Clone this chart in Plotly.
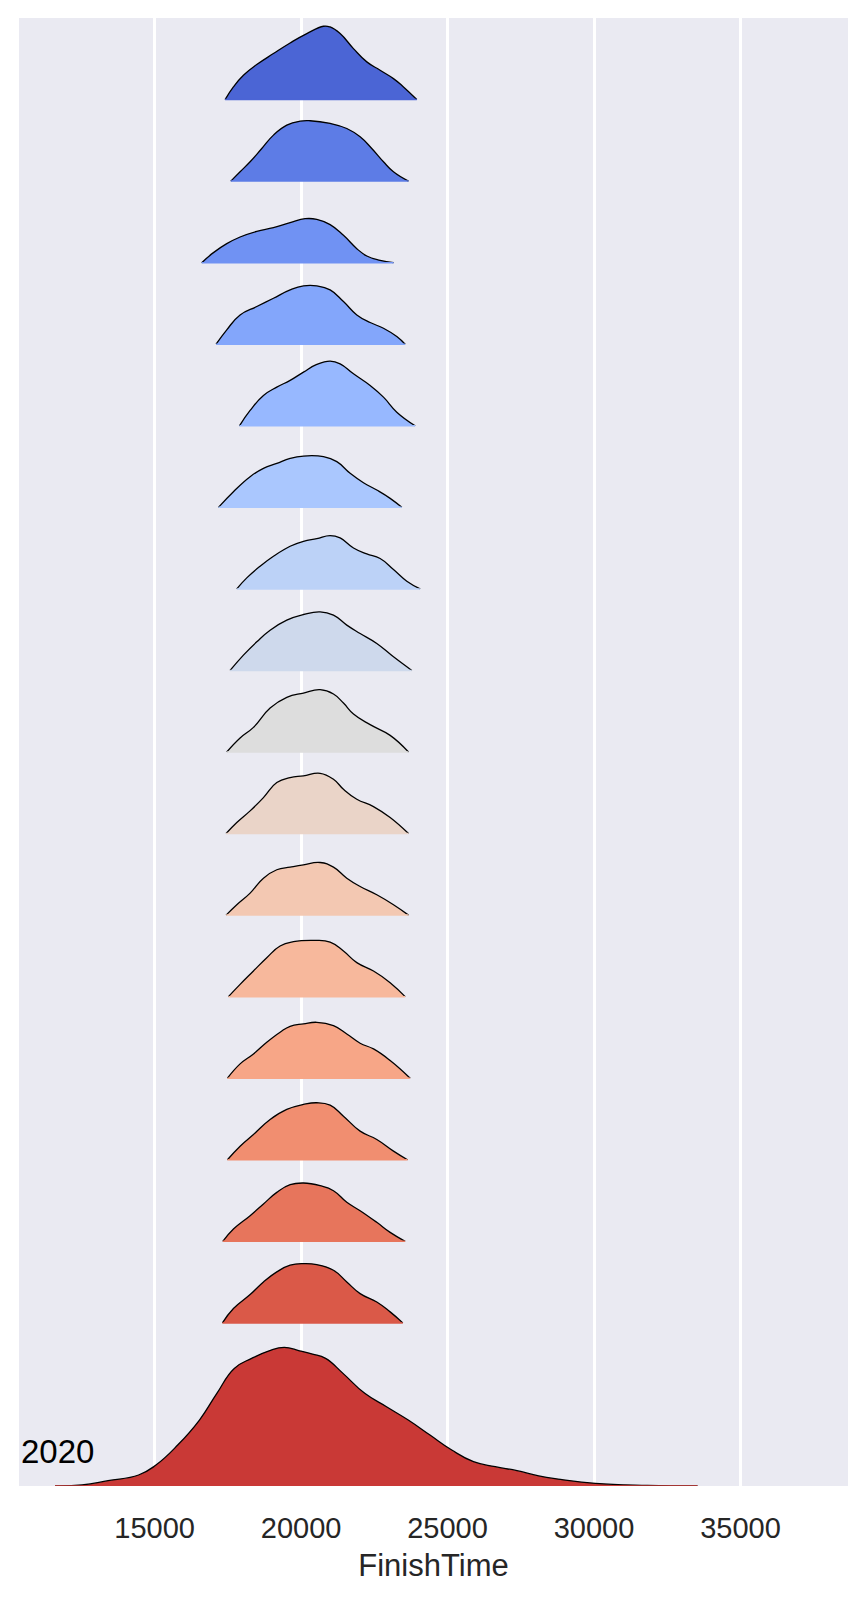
import plotly.graph_objects as go

# ---------------- data ----------------
# FinishTime positions (x) and relative density heights (h) of each ridge, top to bottom
r01_x = [17405, 17689, 18031, 18486, 19055, 19624, 20194, 20763, 20990, 21332, 21787, 22243, 22698, 23153, 23495, 23950]
r01_h = [0, .155, .298, .429, .564, .694, .809, .899, .89, .809, .625, .462, .359, .257, .155, 0]
r02_x = [17599, 17917, 18259, 18657, 19056, 19511, 19966, 20308, 20991, 21560, 22015, 22413, 22812, 23152, 23665]
r02_h = [0, .114, .237, .40, .564, .686, .735, .74, .707, .645, .543, .40, .237, .114, 0]
r03_x = [16608, 17007, 17462, 17917, 18487, 19056, 19625, 20137, 20536, 20991, 21446, 21902, 22243, 22698, 23154]
r03_h = [0, .123, .233, .315, .384, .429, .49, .539, .531, .466, .335, .172, .082, .029, 0]
r04_x = [17098, 17462, 17917, 18487, 19056, 19625, 20080, 20536, 20991, 21446, 21902, 22357, 22812, 23267, 23552]
r04_h = [0, .176, .359, .462, .564, .666, .715, .715, .666, .523, .359, .266, .196, .094, 0]
r05_x = [17895, 18259, 18714, 19169, 19625, 20080, 20536, 20991, 21332, 21788, 22357, 22812, 23267, 23893]
r05_h = [0, .188, .372, .474, .556, .658, .752, .792, .76, .637, .494, .351, .167, 0]
r06_x = [17178, 17690, 18259, 18714, 19170, 19625, 20080, 20763, 21219, 21674, 22129, 22584, 23040, 23438]
r06_h = [0, .192, .376, .478, .539, .60, .629, .621, .56, .417, .302, .212, .11, 0]
r07_x = [17804, 18145, 18600, 19056, 19625, 20080, 20536, 20991, 21332, 21788, 22243, 22698, 23154, 23609, 24064]
r07_h = [0, .135, .278, .40, .523, .584, .617, .654, .625, .502, .429, .372, .237, .094, 0]
r08_x = [17576, 18031, 18487, 18942, 19511, 20080, 20649, 21105, 21560, 22015, 22584, 23154, 23780]
r08_h = [0, .188, .351, .494, .617, .686, .719, .678, .556, .453, .331, .167, 0]
r09_x = [17462, 17917, 18373, 18942, 19511, 20080, 20649, 21105, 21446, 21788, 22357, 23040, 23666]
r09_h = [0, .172, .302, .539, .67, .723, .764, .711, .60, .466, .335, .204, 0]
r10_x = [17439, 17804, 18259, 18714, 19170, 19625, 20080, 20649, 21105, 21446, 21902, 22471, 23040, 23666]
r10_h = [0, .135, .278, .441, .625, .686, .707, .739, .666, .543, .421, .331, .196, 0]
r11_x = [17439, 17804, 18259, 18714, 19170, 19625, 20080, 20649, 21105, 21560, 22015, 22584, 23154, 23666]
r11_h = [0, .127, .27, .453, .556, .588, .617, .645, .588, .453, .351, .249, .127, 0]
r12_x = [17519, 17917, 18373, 18828, 19283, 19739, 20422, 20991, 21446, 21902, 22471, 23040, 23552]
r12_h = [0, .151, .315, .478, .621, .674, .69, .67, .56, .417, .315, .172, 0]
r13_x = [17485, 17917, 18373, 18828, 19283, 19625, 20080, 20536, 21105, 21560, 22015, 22471, 23040, 23723]
r13_h = [0, .176, .298, .441, .564, .637, .666, .686, .645, .543, .429, .359, .217, 0]
r14_x = [17485, 17917, 18373, 18942, 19511, 20080, 20536, 20991, 21446, 22015, 22584, 23154, 23632]
r14_h = [0, .167, .31, .494, .617, .678, .699, .67, .535, .351, .249, .106, 0]
r15_x = [17326, 17690, 18259, 18714, 19170, 19625, 20080, 20649, 21105, 21560, 22015, 22584, 23040, 23552]
r15_h = [0, .151, .315, .458, .60, .694, .715, .682, .621, .478, .376, .233, .11, 0]
r16_x = [17314, 17690, 18259, 18714, 19170, 19625, 20080, 20536, 21105, 21560, 22015, 22584, 23040, 23472]
r16_h = [0, .176, .347, .502, .625, .707, .727, .715, .645, .502, .359, .257, .135, 0]
r2020_x = [11599, 12520, 13411, 14451, 15045, 15787, 16530, 17124, 17718, 18312, 18906, 19425, 19945, 20391,
           20836, 21430, 22173, 22915, 23658, 24400, 25143, 25885, 26628, 27370, 28113, 28855, 30043, 31825, 33533]
r2020_h = [0, .012, .065, .135, .257, .502, .809, 1.136, 1.442, 1.565, 1.658, 1.699, 1.658, 1.618,
           1.565, 1.381, 1.136, .972, .809, .625, .441, .298, .237, .188, .123, .082, .033, .008, 0]

bottom_label = "2020"
x_ticks = [15000, 20000, 25000, 30000, 35000]
x_title = "FinishTime"

ridges_x = [r01_x, r02_x, r03_x, r04_x, r05_x, r06_x, r07_x, r08_x, r09_x, r10_x,
            r11_x, r12_x, r13_x, r14_x, r15_x, r16_x, r2020_x]
ridges_h = [r01_h, r02_h, r03_h, r04_h, r05_h, r06_h, r07_h, r08_h, r09_h, r10_h,
            r11_h, r12_h, r13_h, r14_h, r15_h, r16_h, r2020_h]

# ---------------- style ----------------
colors = ["#4b65d5", "#5d7ce6", "#7092f3", "#83a6fb", "#97b8ff", "#aac7fe", "#bcd2f7", "#ced9ec",
          "#dddddd", "#ead4c8", "#f3c8b2", "#f7b89c", "#f7a687", "#f18e70", "#e7755c", "#da5948", "#c93936"]
baselines = [17, 16, 15, 14, 13, 12, 11, 10, 9, 8, 7, 6, 5, 4, 3, 2, 0]

fig = go.Figure()
for xs, hs, col, b in zip(ridges_x, ridges_h, colors, baselines):
    fig.add_trace(go.Scatter(x=[xs[0], xs[-1]], y=[b, b], mode="lines",
                             line=dict(width=0, color=col), hoverinfo="skip", showlegend=False))
    fig.add_trace(go.Scatter(x=xs, y=[b + h for h in hs], mode="lines", fill="tonexty",
                             fillcolor=col, line=dict(color="black", width=1.3, shape="spline", smoothing=1.3),
                             showlegend=False))
    # colored base edge
    fig.add_trace(go.Scatter(x=[xs[0], xs[-1]], y=[b, b], mode="lines",
                             line=dict(width=1.5, color=col), hoverinfo="skip", showlegend=False))

fig.add_annotation(text=bottom_label, xref="paper", x=0, xanchor="left", yref="y", y=0.42,
                   yanchor="middle", showarrow=False,
                   font=dict(family="Liberation Sans, Arial, sans-serif", size=33, color="black"))

fig.update_layout(
    width=867, height=1600,
    margin=dict(l=19, r=19, t=18, b=114),
    paper_bgcolor="white", plot_bgcolor="#EAEAF2",
    font=dict(family="Liberation Sans, Arial, sans-serif", color="#262626"),
    xaxis=dict(range=[10369, 38671], tickvals=x_ticks, ticktext=[str(t) for t in x_ticks],
               showgrid=True, gridcolor="white", gridwidth=2.5, zeroline=False, showline=False,
               ticks="", tickfont=dict(size=29, color="#262626"), ticklabelstandoff=22,
               title=dict(text=x_title, font=dict(size=31, color="#262626"), standoff=11)),
    yaxis=dict(range=[0, 18], showgrid=False, zeroline=False, showticklabels=False,
               showline=False, ticks=""),
)

fig.write_html("out.html")
